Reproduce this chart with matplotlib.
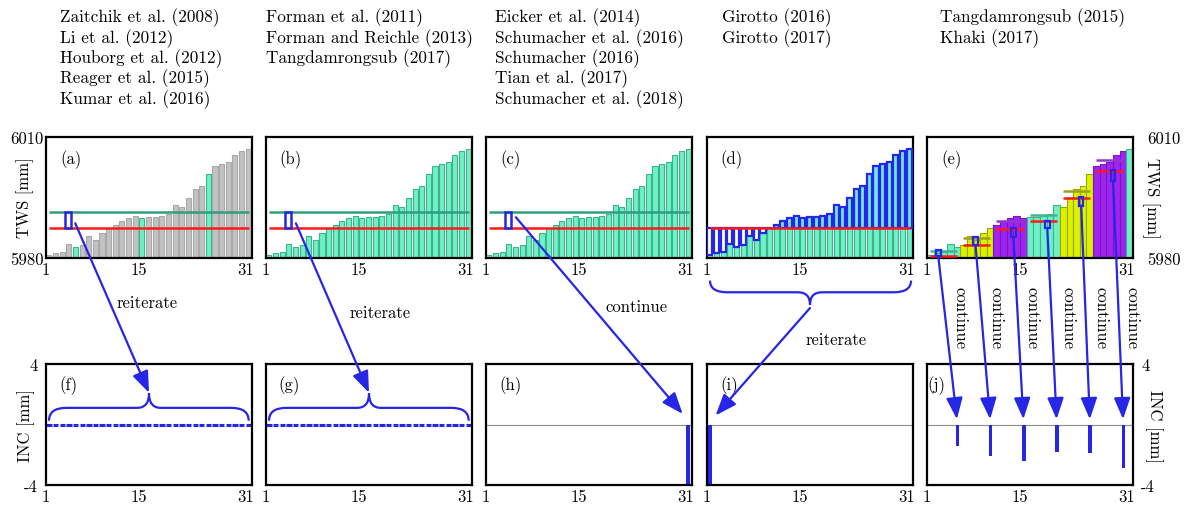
import numpy as np
import matplotlib.pyplot as plt
from matplotlib.patches import Rectangle, ConnectionPatch, PathPatch
from matplotlib.path import Path

plt.rcParams['font.family'] = ['cmr10', 'DejaVu Serif']
plt.rcParams['axes.formatter.use_mathtext'] = True
plt.rcParams['font.size'] = 12

# ---------------- data ----------------
days = np.arange(1, 32)
tws = 5980 + np.array([0.8, 1.2, 1.6, 3.5, 2.7, 3.1, 5.5, 4.5, 6.3, 7.4,
                       8.3, 9.2, 9.8, 10.3, 9.8, 10.1, 10.1, 10.3, 10.8, 13.1,
                       12.7, 15.0, 17.0, 17.9, 20.8, 22.9, 23.3, 23.8, 25.6, 26.5,
                       27.1])
tws_ticks = [5980, 6010]
inc_ticks = [-4, 4]
x_ticks = [1, 15, 31]

highlight_days = [5, 15, 25]          # assimilated days in (a)
upper_level = 5991.5                  # green line
lower_level = 5987.5                  # red line
window = (3.8, 4.7)

# panel (e): 5-day groups
group_size = 5
group_upper = [5981.7, 5985.0, 5989.2, 5990.6, 5996.6, 6004.4]
group_red = [5980.4, 5983.2, 5987.1, 5989.2, 5994.9, 6001.6]
group_box_x = [2.7, 8.3, 14.0, 19.1, 24.2, 29.0]
group_box_bot = [5980.4, 5983.2, 5985.1, 5987.4, 5993.0, 5999.1]
group_box_top = [5982.1, 5985.3, 5987.5, 5989.2, 5995.1, 6001.8]

# increments
inc_zero = np.zeros(31)
inc_h_day, inc_h_val = 31, -4
inc_i_day, inc_i_val = 1, -4
inc_days = np.array([5, 10, 15, 20, 25, 30])
inc_values = [-1.45, -2.07, -2.4, -1.8, -1.87, -2.86]

refs = [
    ["Zaitchik et al. (2008)", "Li et al. (2012)", "Houborg et al. (2012)",
     "Reager et al. (2015)", "Kumar et al. (2016)"],
    ["Forman et al. (2011)", "Forman and Reichle (2013)", "Tangdamrongsub (2017)"],
    ["Eicker et al. (2014)", "Schumacher et al. (2016)", "Schumacher (2016)",
     "Tian et al. (2017)", "Schumacher et al. (2018)"],
    ["Girotto (2016)", "Girotto (2017)"],
    ["Tangdamrongsub (2015)", "Khaki (2017)"],
]
top_labels = ['(a)', '(b)', '(c)', '(d)', '(e)']
bot_labels = ['(f)', '(g)', '(h)', '(i)', '(j)']

# ---------------- styles ----------------
BLUE = '#2626e6'
GREEN = '#6ff0c6'
GREEN_EDGE = '#3fb38c'
GREEN_LINE = '#2f9e7c'
RED = '#ff1a1a'
GRAY = '#c2c2c2'
GRAY_EDGE = '#a9a9a9'
grp_face = ['#6ff0c6', '#dcf200', '#a024f0']
grp_edge = ['#3fb38c', '#9aa800', '#7a18c0']
grp_line = ['#45b393', '#9ea21a', '#9236d0']

W, H = 1189, 506
fig = plt.figure(figsize=(W / 100, H / 100), dpi=100)
lefts = [46, 266, 486, 707, 927]


def px_axes(l, t, w=206, h=121):
    return fig.add_axes([l / W, 1 - (t + h) / H, w / W, h / H])


top = [px_axes(l, 138) for l in lefts]
bot = [px_axes(l, 365) for l in lefts]

for ax in top + bot:
    ax.set_xlim(1, 32)
    ax.set_xticks(x_ticks)
    ax.set_xticklabels([str(t) for t in x_ticks])
    ax.set_yticks([])
    ax.tick_params(length=0, pad=3, labelsize=12)
    for s in ax.spines.values():
        s.set_linewidth(1.6)
for ax in top:
    ax.set_ylim(5980, 6010)
for ax in bot:
    ax.set_ylim(-4, 4)

bw = 0.76
# (a)
ax = top[0]
cols = [GREEN if d in highlight_days else GRAY for d in days]
edges = [GREEN_EDGE if d in highlight_days else GRAY_EDGE for d in days]
ax.bar(days + 0.05, tws - 5980, bottom=5980, width=bw, align='edge',
       color=cols, edgecolor=edges, lw=0.8)
# (b), (c)
for ax in top[1:3]:
    ax.bar(days + 0.05, tws - 5980, bottom=5980, width=bw, align='edge',
           color=GREEN, edgecolor=GREEN_EDGE, lw=0.8)
for ax in top[:3]:
    ax.hlines(upper_level, 1.45, 31.6, color=GREEN_LINE, lw=1.8, zorder=3)
    ax.hlines(lower_level, 1.45, 31.6, color=RED, lw=1.8, zorder=3)
    ax.add_patch(Rectangle((window[0], lower_level), window[1] - window[0],
                           upper_level - lower_level, fill=False,
                           edgecolor=BLUE, lw=1.8, zorder=4))
# (d)
ax = top[3]
low = np.minimum(tws, lower_level)
ax.bar(days + 0.05, low - 5980, bottom=5980, width=bw, align='edge',
       color=GREEN, edgecolor=GREEN_EDGE, lw=0.8)
faces = ['#6fe6f8' if v > lower_level else 'white' for v in tws]
ax.bar(days + 0.05, tws - lower_level, bottom=lower_level, width=bw,
       align='edge', color=faces, edgecolor=BLUE, lw=1.6, zorder=3)
ax.hlines(lower_level, 1.45, 31.6, color=RED, lw=1.8, zorder=4)

# (e)
ax = top[4]
gidx = ((days - 1) // group_size) % 3
ax.bar(days, tws - 5980, bottom=5980, width=1.0, align='edge',
       color=[grp_face[g] for g in gidx], edgecolor=[grp_edge[g] for g in gidx],
       lw=0.8)
for k in range(len(group_red)):
    start = 1 + k * group_size
    ax.hlines(group_upper[k], start + 0.45, start + 4.55,
              color=grp_line[k % 3], lw=1.8, zorder=3)
    ax.hlines(group_red[k], start + 0.45, start + 4.55, color=RED, lw=1.8,
              zorder=3)
    ax.add_patch(Rectangle((group_box_x[k] - 0.35, group_box_bot[k]), 0.7,
                           group_box_top[k] - group_box_bot[k], fill=False,
                           edgecolor=BLUE, lw=1.6, zorder=4))

# y ticks top row
top[0].set_yticks(tws_ticks)
top[0].set_yticklabels([str(t) for t in tws_ticks])
top[0].tick_params(axis='y', pad=2)
top[4].yaxis.tick_right()
top[4].set_yticks(tws_ticks)
top[4].set_yticklabels([str(t) for t in tws_ticks])
top[4].tick_params(axis='y', pad=10, length=0)

# bottom row
for ax in bot[:2]:
    ax.bar(days + 0.05, inc_zero, width=0.8, align='edge', edgecolor=BLUE,
           lw=2.2)
for ax in bot[2:]:
    ax.axhline(0, color='#8c8c8c', lw=0.8, zorder=1)
bot[2].bar(inc_h_day + 0.05, inc_h_val, width=0.65, align='edge', color=BLUE)
bot[3].bar(inc_i_day + 0.05, inc_i_val, width=0.75, align='edge', color=BLUE)
bot[4].bar(inc_days + 0.3, inc_values, width=0.55, align='edge', color=BLUE)

bot[0].set_yticks(inc_ticks)
bot[0].set_yticklabels([str(t) for t in inc_ticks])
bot[0].tick_params(axis='y', pad=6)
bot[4].yaxis.tick_right()
bot[4].set_yticks(inc_ticks)
bot[4].set_yticklabels([str(t) for t in inc_ticks])
bot[4].tick_params(axis='y', pad=6, length=0)

# panel letters
for ax, lab in zip(top, top_labels):
    ax.text(0.12, 0.82, lab, transform=ax.transAxes, ha='center', va='center',
            fontsize=12)
for ax, lab, xp in zip(bot, bot_labels, [0.11, 0.11, 0.12, 0.11, 0.045]):
    ax.text(xp, 0.83, lab, transform=ax.transAxes, ha='center', va='center',
            fontsize=12)

# axis titles
fig.text(25 / W, 1 - 198 / H, 'TWS [mm]', rotation=90, ha='center',
         va='center', fontsize=12)
fig.text(1151 / W, 1 - 198 / H, 'TWS [mm]', rotation=-90, ha='center',
         va='center', fontsize=12)
fig.text(26 / W, 1 - 426 / H, 'INC [mm]', rotation=90, ha='center',
         va='center', fontsize=12)
fig.text(1154 / W, 1 - 426 / H, 'INC [mm]', rotation=-90, ha='center',
         va='center', fontsize=12)

# references above columns
for xpx, lines in zip([60, 266, 495, 722, 940], refs):
    for j, line in enumerate(lines):
        fig.text(xpx / W, 1 - (18 + 20.3 * j) / H, line, ha='left',
                 va='center', fontsize=12.4)


# braces
def brace(ax, x0, x1, y0, y1, ytip, xc, r, r2):
    verts = [(x0, y0), (x0, y1), (x0 + r, y1),
             (xc - r2, y1), (xc, y1), (xc, ytip),
             (xc, y1), (xc + r2, y1),
             (x1 - r, y1), (x1, y1), (x1, y0)]
    codes = [Path.MOVETO, Path.CURVE3, Path.CURVE3,
             Path.LINETO, Path.CURVE3, Path.CURVE3,
             Path.CURVE3, Path.CURVE3,
             Path.LINETO, Path.CURVE3, Path.CURVE3]
    ax.add_patch(PathPatch(Path(verts, codes), fill=False, edgecolor=BLUE,
                           lw=1.6, clip_on=False, zorder=5))


for ax in bot[:2]:
    brace(ax, 1.45, 31.5, 0.25, 1.1, 2.05, 16.5, 2.6, 1.8)
brace(top[3], 1.45, 31.7, 5974.4, 5971.5, 5968.4, 16.5, 2.6, 1.8)

arrow_kw = dict(arrowstyle='-|>,head_length=1.3,head_width=0.5',
                color=BLUE, lw=1.6, mutation_scale=10, shrinkA=0, shrinkB=0,
                zorder=6)


def connect(axA, pA, axB, pB):
    con = ConnectionPatch(xyA=pA, coordsA='data', axesA=axA,
                          xyB=pB, coordsB='data', axesB=axB, **arrow_kw)
    con.set_annotation_clip(False)
    fig.add_artist(con)


connect(top[0], (5.4, 5988.6), bot[0], (16.5, 2.1))
connect(top[1], (5.5, 5988.6), bot[1], (16.5, 2.1))
connect(top[2], (5.5, 5990.1), bot[2], (30.6, 0.7))
connect(top[3], (16.5, 5967.6), bot[3], (2.3, 0.6))
for k in range(len(group_box_x)):
    connect(top[4], (group_box_x[k], group_box_bot[k]), bot[4],
            (inc_days[k] + 0.5, 0.35))

# flow words
fig.text(147 / W, 1 - 303 / H, 'reiterate', ha='center', va='center')
fig.text(380 / W, 1 - 313 / H, 'reiterate', ha='center', va='center')
fig.text(637 / W, 1 - 307 / H, 'continue', ha='center', va='center')
fig.text(836 / W, 1 - 340 / H, 'reiterate', ha='center', va='center')
for xpx in [960, 996, 1032, 1068, 1101, 1132]:
    fig.text(xpx / W, 1 - 318 / H, 'continue', rotation=-90, ha='center',
             va='center')

fig.savefig('out.png', dpi=100)
